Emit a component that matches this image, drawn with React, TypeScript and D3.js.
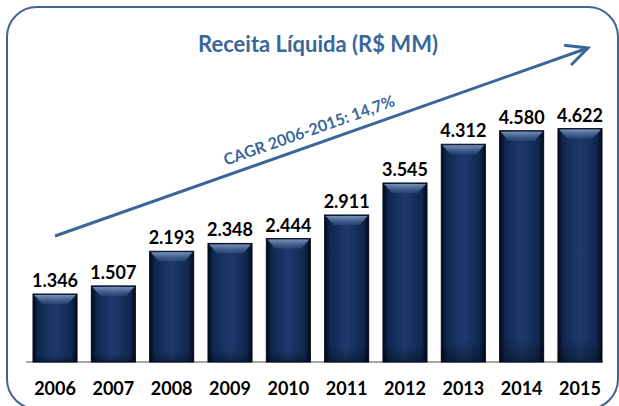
import React from "react";
import * as d3 from "d3";

const years = ["2006", "2007", "2008", "2009", "2010", "2011", "2012", "2013", "2014", "2015"];
const values = [1346, 1507, 2193, 2348, 2444, 2911, 3545, 4312, 4580, 4622];
const valueLabels = ["1.346", "1.507", "2.193", "2.348", "2.444", "2.911", "3.545", "4.312", "4.580", "4.622"];
const title = "Receita Líquida (R$ MM)";
const cagrLabel = "CAGR 2006-2015: 14,7%";

const W = 619;
const H = 406;
const baseY = 362;
const FONT = "Lato, 'Open Sans', sans-serif";
const BLUE = "#3b6699";

export default function App() {
  const x = d3.scaleBand<string>().domain(years).range([26, 609]).paddingInner(0.245).paddingOuter(0.12);
  const y = d3.scaleLinear().domain([0, 5000]).range([baseY, baseY - 252.5]);
  const bw = x.bandwidth();

  // arrow
  const ax0 = 55, ay0 = 236, ax1 = 588, ay1 = 48;
  const ang = Math.atan2(ay1 - ay0, ax1 - ax0);
  const angDeg = (ang * 180) / Math.PI;
  const headLen = 24;
  const spread = 0.45;
  const h1x = ax1 - headLen * Math.cos(ang - spread);
  const h1y = ay1 - headLen * Math.sin(ang - spread);
  const h2x = ax1 - headLen * Math.cos(ang + spread);
  const h2y = ay1 - headLen * Math.sin(ang + spread);
  const tx = 311, ty = ay0 + (ay1 - ay0) * ((311 - ax0) / (ax1 - ax0)) - 10;

  return (
    <svg width={W} height={H} style={{ position: "absolute", left: 0, top: 0 }}>
      <defs>
        <linearGradient id="barH" x1="0" x2="1" y1="0" y2="0">
          <stop offset="0" stopColor="#02081a" />
          <stop offset="0.12" stopColor="#0f2750" />
          <stop offset="0.5" stopColor="#1c3b6d" />
          <stop offset="0.88" stopColor="#0f2750" />
          <stop offset="1" stopColor="#02081a" />
        </linearGradient>
        <linearGradient id="barV" x1="0" x2="0" y1="0" y2="1">
          <stop offset="0" stopColor="#000" stopOpacity="0" />
          <stop offset="0.9" stopColor="#000" stopOpacity="0" />
          <stop offset="1" stopColor="#000" stopOpacity="0.35" />
        </linearGradient>
        <linearGradient id="bevel" x1="0" x2="0" y1="0" y2="1">
          <stop offset="0" stopColor="#8aa3c8" stopOpacity="0.85" />
          <stop offset="1" stopColor="#3d5c8c" stopOpacity="0.4" />
        </linearGradient>
      </defs>
      <rect x={7} y={7} width={611} height={402} rx={30} ry={30} fill="#fff" stroke="#3f6594" strokeWidth={2} />
      <text x={318} y={52} textAnchor="middle" fontFamily={FONT} fontWeight={700} fontSize={22} fill={BLUE}>
        {title}
      </text>
      <line x1={26} x2={603} y1={baseY} y2={baseY} stroke="#a6a6a6" strokeWidth={2} />
      {years.map((yr, i) => {
        const bx = x(yr)!;
        const top = y(values[i]);
        const h = baseY - top;
        const bev = 10;
        return (
          <g key={yr}>
            <rect x={bx} y={top} width={bw} height={h} fill="url(#barH)" stroke="#050c1c" strokeWidth={1} />
            <rect x={bx} y={top} width={bw} height={h} fill="url(#barV)" />
            <polygon
              points={`${bx + 1},${top + 1} ${bx + bw - 1},${top + 1} ${bx + bw - 9},${top + bev} ${bx + 9},${top + bev}`}
              fill="url(#bevel)"
            />
            <text x={bx + bw / 2} y={top - 7} textAnchor="middle" fontFamily={FONT} fontWeight={700} fontSize={18} fill="#000">
              {valueLabels[i]}
            </text>
            <text x={bx + bw / 2} y={395} textAnchor="middle" fontFamily={FONT} fontWeight={700} fontSize={18} fill="#000">
              {yr}
            </text>
          </g>
        );
      })}
      <line x1={ax0} y1={ay0} x2={ax1} y2={ay1} stroke={BLUE} strokeWidth={3} />
      <polyline points={`${h1x},${h1y} ${ax1},${ay1} ${h2x},${h2y}`} fill="none" stroke={BLUE} strokeWidth={3} />
      <text
        x={tx}
        y={ty}
        textAnchor="middle"
        fontFamily={FONT}
        fontWeight={700}
        fontSize={16}
        fill={BLUE}
        transform={`rotate(${angDeg} ${tx} ${ty})`}
      >
        {cagrLabel}
      </text>
    </svg>
  );
}
